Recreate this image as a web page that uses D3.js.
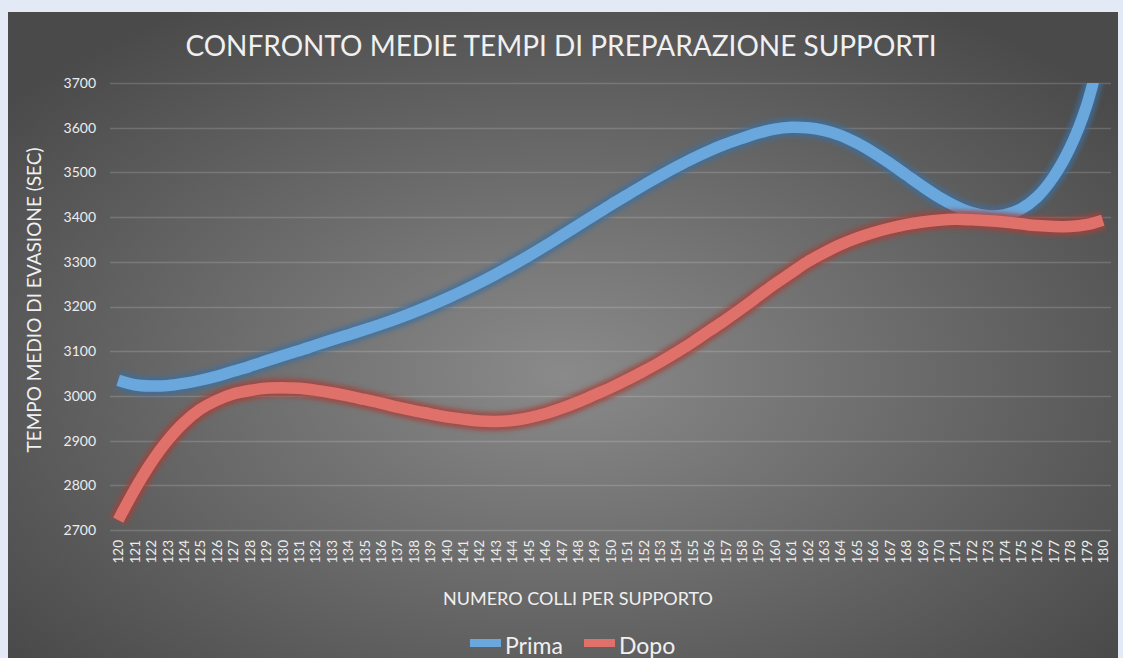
<!DOCTYPE html>
<html>
<head>
<meta charset="utf-8">
<script src="https://cdn.jsdelivr.net/npm/d3@7"></script>
<style>
body { margin: 0; background: #e4eaf5; }
svg text { font-family: Lato, "Open Sans", sans-serif; fill: #f0f0f0; }
</style>
</head>
<body>
<svg width="1123" height="658"></svg>
<script>
// categorie asse X (numero colli per supporto)
var categories = [120,121,122,123,124,125,126,127,128,129,130,131,132,133,134,135,136,137,138,139,
  140,141,142,143,144,145,146,147,148,149,150,151,152,153,154,155,156,157,158,159,
  160,161,162,163,164,165,166,167,168,169,170,171,172,173,174,175,176,177,178,179,180];

var prima = [3035,3025,3022,3023,3028,3035,3044,3055,3066,3078,3090,3101,3113,3125,3136,3148,3160,3173,3187,3202,
  3218,3235,3253,3272,3292,3313,3335,3358,3381,3404,3427,3449,3471,3492,3512,3531,3548,3563,3576,3588,
  3597,3601,3600,3594,3583,3566,3545,3521,3495,3469,3445,3425,3410,3403,3405,3418,3445,3490,3555,3648,3790];

var dopo = [2722,2790,2850,2900,2940,2970,2990,3004,3012,3017,3018,3017,3013,3007,3000,2992,2984,2975,2967,2960,
  2953,2948,2944,2943,2945,2951,2960,2972,2986,3002,3018,3036,3055,3075,3097,3120,3145,3170,3196,3223,
  3250,3275,3300,3320,3338,3353,3365,3375,3383,3389,3393,3395,3394,3392,3389,3385,3381,3379,3379,3383,3393];

var yTicks = [2700,2800,2900,3000,3100,3200,3300,3400,3500,3600,3700];

var series = [
  { name: "Prima", values: prima, color: "#6aa7dc", glow: "#3f6f9c" },
  { name: "Dopo", values: dopo, color: "#e0716a", glow: "#a3403b" }
];

var svg = d3.select("svg"),
  width = +svg.attr("width"),
  height = +svg.attr("height");

var plotLeft = 110, plotRight = 1111, plotTop = 83, plotBottom = 530;

var defs = svg.append("defs");

var grad = defs.append("radialGradient")
  .attr("id", "bg")
  .attr("cx", "50%").attr("cy", "55%").attr("r", "65%");
grad.append("stop").attr("offset", "0%").attr("stop-color", "#8a8a8a");
grad.append("stop").attr("offset", "100%").attr("stop-color", "#4a4a4a");

defs.append("filter")
  .attr("id", "blur")
  .attr("x", "-5%").attr("y", "-10%").attr("width", "110%").attr("height", "120%")
  .append("feGaussianBlur").attr("stdDeviation", 2.2);

defs.append("clipPath")
  .attr("id", "plot")
  .append("rect")
  .attr("x", 0).attr("y", plotTop).attr("width", width).attr("height", height - plotTop);

// pannello scuro
svg.append("rect")
  .attr("x", 8).attr("y", 12)
  .attr("width", 1110).attr("height", 660)
  .attr("fill", "url(#bg)");

var x = d3.scalePoint()
  .domain(categories)
  .range([plotLeft, plotRight])
  .padding(0.5);

var y = d3.scaleLinear()
  .domain([2700, 3700])
  .range([plotBottom, plotTop]);

// griglia
svg.append("g")
  .selectAll("line")
  .data(yTicks)
  .enter().append("line")
  .attr("x1", plotLeft).attr("x2", plotRight)
  .attr("y1", function(d) { return Math.round(y(d)) + 0.5; })
  .attr("y2", function(d) { return Math.round(y(d)) + 0.5; })
  .attr("stroke", "#ffffff")
  .attr("stroke-opacity", 0.16)
  .attr("stroke-width", 1.5);

// etichette asse Y
var yAxis = svg.append("g")
  .attr("transform", "translate(" + 96 + ",0)")
  .call(d3.axisLeft(y).tickValues(yTicks).tickSize(0).tickPadding(0).tickFormat(d3.format("d")));
yAxis.select(".domain").remove();
yAxis.selectAll("text")
  .style("font-size", "14px")
  .style("fill", "#ededed");

// etichette asse X
var xAxis = svg.append("g")
  .attr("transform", "translate(0," + 540 + ")")
  .call(d3.axisBottom(x).tickSize(0).tickPadding(0));
xAxis.select(".domain").remove();
xAxis.selectAll("text")
  .attr("transform", "rotate(-90)")
  .attr("x", 0).attr("y", 0)
  .attr("dx", 0).attr("dy", "0.35em")
  .style("text-anchor", "end")
  .style("font-size", "13.5px")
  .style("fill", "#ededed");

var line = d3.line()
  .x(function(d, i) { return x(categories[i]); })
  .y(function(d) { return y(d); })
  .curve(d3.curveCatmullRom.alpha(0.5));

var lines = svg.append("g").attr("clip-path", "url(#plot)");

series.forEach(function(s) {
  lines.append("path")
    .attr("d", line(s.values))
    .attr("fill", "none")
    .attr("stroke", s.glow)
    .attr("stroke-opacity", 0.75)
    .attr("stroke-width", 19)
    .attr("filter", "url(#blur)");
  lines.append("path")
    .attr("d", line(s.values))
    .attr("fill", "none")
    .attr("stroke", s.color)
    .attr("stroke-width", 11.5);
});

// titoli
svg.append("text")
  .attr("x", 561).attr("y", 56)
  .attr("text-anchor", "middle")
  .style("font-size", "28px")
  .text("CONFRONTO MEDIE TEMPI DI PREPARAZIONE SUPPORTI");

svg.append("text")
  .attr("transform", "translate(41," + 300 + ") rotate(-90)")
  .attr("text-anchor", "middle")
  .style("font-size", "19px")
  .text("TEMPO MEDIO DI EVASIONE (SEC)");

svg.append("text")
  .attr("x", 578).attr("y", 605)
  .attr("text-anchor", "middle")
  .style("font-size", "18px")
  .text("NUMERO COLLI PER SUPPORTO");

// legenda
var legend = svg.append("g")
  .selectAll("g")
  .data(series)
  .enter().append("g")
  .attr("transform", function(d, i) { return "translate(" + (470 + i * 114) + ",639)"; });

legend.append("rect")
  .attr("width", 31).attr("height", 8)
  .attr("fill", function(d) { return d.color; });

legend.append("text")
  .attr("x", 35).attr("y", 15)
  .style("font-size", "23px")
  .text(function(d) { return d.name; });
</script>
</body>
</html>
